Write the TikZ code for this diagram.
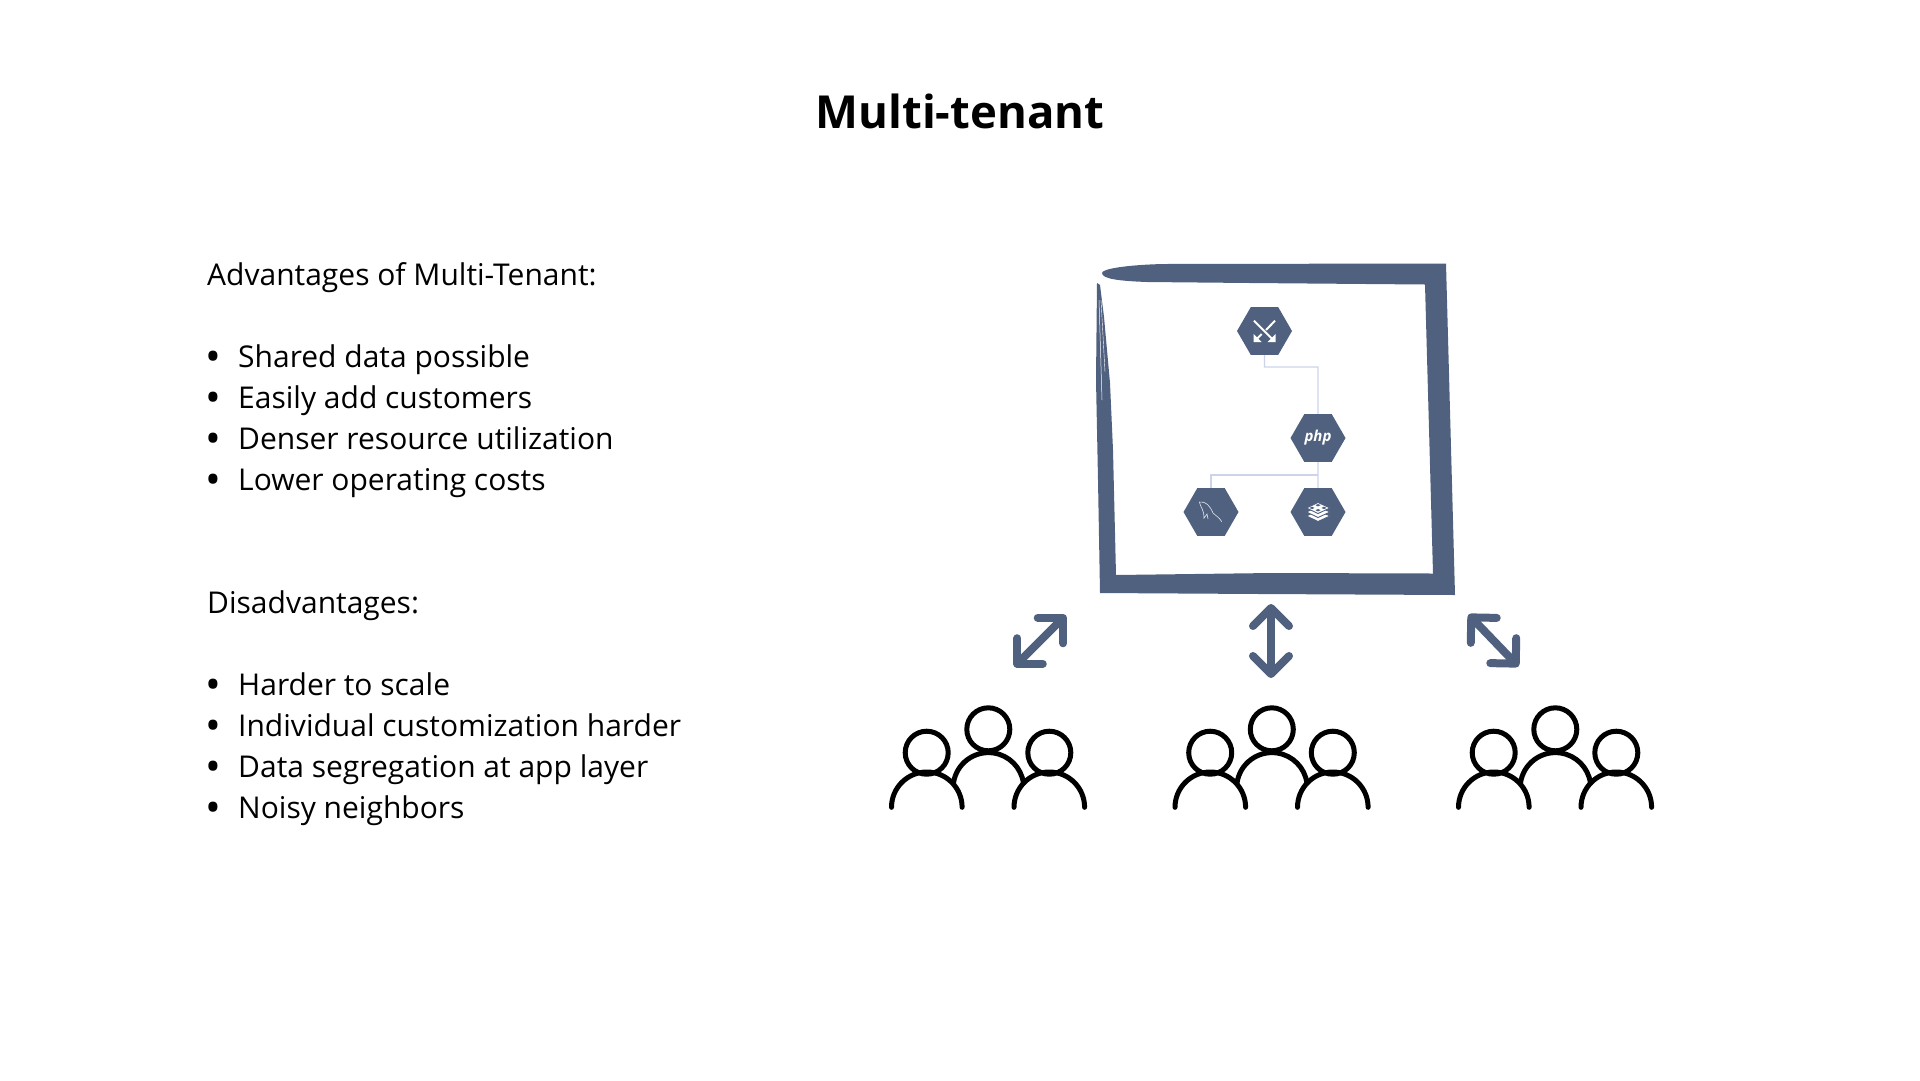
\documentclass[tikz,border=0pt]{standalone}
\usepackage{fontspec}
\setmainfont{Open Sans}
\usepackage{tkz-euclide}
\usetikzlibrary{arrows.meta,calc,shapes.geometric}
\definecolor{SlateClr}{HTML}{50617F}
\definecolor{WireClr}{HTML}{CDD4EA}
\tikzset{
  hexnode/.style={regular polygon,regular polygon sides=6,minimum size=55pt,inner sep=0pt,fill=SlateClr,text=white},
  wire/.style={WireClr,line width=1.4pt},
  linkarrow/.style={SlateClr,line width=8pt,line cap=round,line join=round,
    {Straight Barb[length=18pt,width=36pt,round]}-{Straight Barb[length=18pt,width=36pt,round]}},
  person/.style={line width=5pt,line cap=round},
  bodytext/.style={anchor=base west,font=\fontsize{30}{36}\selectfont,inner sep=0pt},
  iconline/.style={white,line width=2pt}
}
\begin{document}
\begin{tikzpicture}[x=1pt,y=-1pt]
\path[use as bounding box,fill=white] (0,0) rectangle (1920,1080);

\node[anchor=base,font=\fontsize{45.5}{52}\selectfont\bfseries,inner sep=0pt] (title) at (960,128) {Multi-tenant};

\node[bodytext] (advhead) at (207,285) {Advantages of Multi-Tenant:};
\node[bodytext] (dishead) at (207,613) {Disadvantages:};
\foreach \ypos/\rowtext [count=\i] in {367/Shared data possible,408/Easily add customers,449/Denser resource utilization,490/Lower operating costs,695/Harder to scale,736/Individual customization harder,777/Data segregation at app layer,818/Noisy neighbors}{
  \node[bodytext,font=\fontsize{42}{42}\selectfont] (dot\i) at (205,\ypos+4) {\textbullet};
  \node[bodytext] (row\i) at (238,\ypos) {\rowtext};
}

\tkzDefPoints{1102/273/FA,1163/264/FB,1446/263.5/FC,1455/595/FD,1100/593/FE,1097/283/FF,
  1100/285/FG,1104/317/FH,1110/383/FI,1113/450/FJ,1116/575/FK,1433/573.5/FL,1425/284.5/FM,1250/283/FN,1147/282/FO}

\fill[SlateClr] (FA) .. controls (1102,269) and (1125,265) .. (FB) -- (FC) -- (FD) -- (1260,594) -- (FE)
  -- (1098,480) -- (1096,380) -- (FF) -- (FG) -- (FH) -- (FI) -- (FJ) -- (FK) -- (1272,573) -- (FL) -- (FM) -- (FN)
  -- (FO) .. controls (1120,281) and (1102,279) .. (FA) -- cycle;
\draw[white,line width=.5pt] (1099,300) -- (1102,400);
\draw[white,line width=.4pt] (1101,300) -- (1105,372);

\node[hexnode] (hexgate) at (1264.5,331) {};
\node[hexnode,font=\fontsize{15}{16}\selectfont\bfseries\itshape] (hexphp) at (1318,438) {php};
\node[hexnode] (hexsql) at (1211,512) {};
\node[hexnode] (hexcache) at (1318,512) {};

\coordinate (bendgate) at (1318,367);
\coordinate (bendphp) at (1318,475);
\draw[wire] (hexgate.south) |- (bendgate) -- (hexphp.north);
\draw[wire] (hexphp.south) -- (hexcache.north);
\draw[wire] (bendphp) -| (hexsql.north);

% gateway icon
\draw[iconline] (1254,320.7) -- (1273,339.7);
\draw[iconline] (1275,320.7) -- (1266,330);
\draw[iconline] (1261.7,334) -- (1256,339.7);
\fill[white] (1275.5,342) -- (1275.5,334) -- (1267.5,342) -- cycle;
\fill[white] (1253.5,342) -- (1253.5,334) -- (1261.5,342) -- cycle;

% dolphin icon
\draw[white!85!SlateClr,line width=.6pt] (1199.3,502) .. controls (1206,501) and (1210,506) .. (1213,513)
  .. controls (1216,516) and (1219,517) .. (1221.7,521.7);
\draw[white!85!SlateClr,line width=.6pt] (1199.3,502) .. controls (1201,508) and (1204,510) .. (1204,518)
  -- (1207,514) -- (1208,519);

% stack icon
\foreach \yoff in {8,4}{
  \fill[white,draw=SlateClr,line width=.9pt] (1306.5,508+\yoff) -- (1318,502.5+\yoff) -- (1330,508+\yoff) -- (1318,513.5+\yoff) -- cycle;
}
\fill[white,draw=SlateClr,line width=.9pt] (1306.5,508) -- (1318,502.5) -- (1330,508) -- (1318,513.5) -- cycle;
\fill[SlateClr] (1318,504) -- (1320.5,505.2) -- (1318,506.4) -- (1315.5,505.2) -- cycle;
\fill[SlateClr] (1318,509) -- (1320.5,510.2) -- (1318,511.4) -- (1315.5,510.2) -- cycle;
\fill[SlateClr] (1312,506.7) -- (1314.5,507.9) -- (1312,509.1) -- (1309.5,507.9) -- cycle;
\fill[SlateClr] (1324,506.7) -- (1326.5,507.9) -- (1324,509.1) -- (1321.5,507.9) -- cycle;

\tkzDefPoints{1014.5/666.5/LA,1066/615/LB,1271/604/MA,1271/678/MB,1468.5/614.5/RA,1518.5/666.5/RB}
\draw[linkarrow] (LA) -- (LB);
\draw[linkarrow] (MA) -- (MB);
\draw[linkarrow] (RA) -- (RB);

\foreach \xoff in {0,283.5,567}{
  \begin{scope}[xshift=\xoff pt]
  \draw[person] (926.7,752.7) circle (21.5);
  \draw[person] (988.3,729.3) circle (21.5);
  \draw[person] (1049.3,752.7) circle (21.5);
  \draw[person] (891.5,807.3) arc[start angle=180,end angle=360,radius=35.3];
  \draw[person] (1014,807.3) arc[start angle=180,end angle=360,radius=35.3];
  \draw[person] (953.5,783) arc[start angle=188,end angle=352,radius=35.3];
  \end{scope}
}
\end{tikzpicture}
\end{document}
